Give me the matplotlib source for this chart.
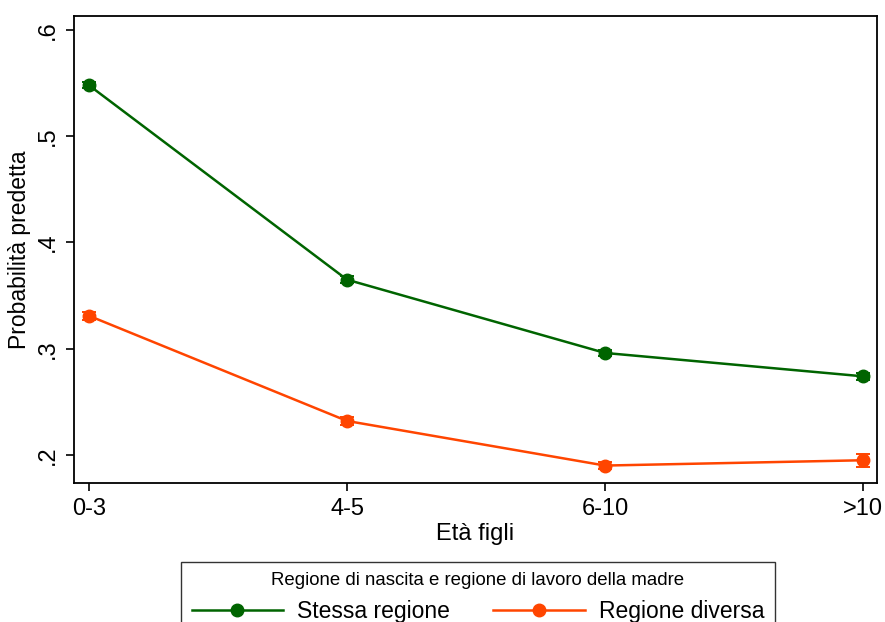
import numpy as np
import matplotlib.pyplot as plt
from matplotlib.lines import Line2D

plt.rcParams['font.family'] = ['Liberation Sans', 'DejaVu Sans']

# dati
eta = ['0-3', '4-5', '6-10', '>10']
stessa = [0.548, 0.365, 0.296, 0.274]
stessa_err = [0.003, 0.003, 0.003, 0.003]
diversa = [0.331, 0.232, 0.190, 0.195]
diversa_err = [0.004, 0.004, 0.003, 0.006]
yticks = [0.2, 0.3, 0.4, 0.5, 0.6]
ytick_labels = ['.2', '.3', '.4', '.5', '.6']

verde = '#006400'
arancio = '#FF4500'

fig = plt.figure(figsize=(8.85, 6.22), dpi=100)
ax = fig.add_axes([0.0836, 0.2235, 0.9074, 0.7508])

x = np.arange(len(eta))
ax.errorbar(x, stessa, yerr=stessa_err, color=verde, marker='o', markersize=9,
            lw=1.8, capsize=5, elinewidth=1.4, capthick=1.4)
ax.errorbar(x, diversa, yerr=diversa_err, color=arancio, marker='o', markersize=9,
            lw=1.8, capsize=5, elinewidth=1.4, capthick=1.4)

ax.set_xlim(-0.058, 3.054)
ax.set_ylim(0.1736, 0.6132)
ax.set_xticks(x)
ax.set_xticklabels(eta, fontsize=17)
ax.set_yticks(yticks)
ax.set_yticklabels(ytick_labels, fontsize=17, rotation=90, va='center')
ax.tick_params(length=6, width=1.2, color='black', pad=5)
for s in ax.spines.values():
    s.set_linewidth(1.3)

ax.set_xlabel('Età figli', fontsize=17, labelpad=2)
ax.set_ylabel('Probabilità predetta', fontsize=16.5)
ax.yaxis.set_label_coords(-0.053, 0.5)

handles = [Line2D([], [], color=verde, marker='o', markersize=9, lw=1.8),
           Line2D([], [], color=arancio, marker='o', markersize=9, lw=1.8)]
leg = fig.legend(handles, ['Stessa regione', 'Regione diversa'],
                 loc='upper center', bbox_to_anchor=(0.540, 0.097), ncol=2,
                 fontsize=16.5, title='Regione di nascita e regione di lavoro della madre',
                 title_fontsize=13.4, handlelength=4.0, handletextpad=0.6,
                 columnspacing=1.9, frameon=True, fancybox=False, edgecolor='black',
                 borderpad=0.45, borderaxespad=0)
leg.get_frame().set_linewidth(1.0)

fig.savefig('out.png', dpi=100)
